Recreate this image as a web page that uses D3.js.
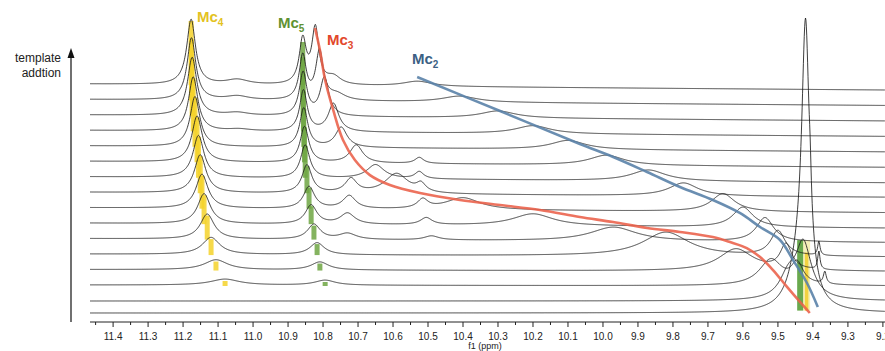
<!DOCTYPE html>
<html>
<head>
<meta charset="utf-8">
<script src="https://cdn.jsdelivr.net/npm/d3@7"></script>
<style>
  body { margin: 0; background: #fff; }
  svg { display: block; font-family: "Liberation Sans", Arial, sans-serif; }
</style>
</head>
<body>
<svg id="chart" width="885" height="351"></svg>
<script>
// ---- data ----
const ppmTicks = [11.4, 11.3, 11.2, 11.1, 11.0, 10.9, 10.8, 10.7, 10.6, 10.5, 10.4,
  10.3, 10.2, 10.1, 10.0, 9.9, 9.8, 9.7, 9.6, 9.5, 9.4, 9.3, 9.2];
const nTraces = 16;   // 0 = top (most template), 15 = bottom
const baseDrift = [6, 6, 6, 6, 6, 6, 6, 5, 5, 5, 4, 3, 2, 1, 0, 0];

// Mc4 (yellow)
const mc4Ppm = [11.177, 11.176, 11.174, 11.171, 11.166, 11.160, 11.156, 11.151, 11.146, 11.140, 11.131, 11.120, 11.106, 11.080];
const mc4Height = [65, 62, 58, 54, 50, 46, 42, 38, 34, 30, 25, 17, 10, 6];
const mc4Width = [0.015, 0.015, 0.016, 0.016, 0.017, 0.018, 0.019, 0.020, 0.021, 0.022, 0.024, 0.030, 0.040, 0.050];

// Mc5 (green)
const mc5Ppm = [10.858, 10.858, 10.857, 10.856, 10.855, 10.853, 10.851, 10.846, 10.840, 10.834, 10.826, 10.817, 10.809, 10.794];
const mc5Height = [44, 44, 43, 41, 39, 36, 33, 28, 22, 19, 15, 12, 8, 5];
const mc5Width = [0.012, 0.012, 0.013, 0.013, 0.014, 0.015, 0.016, 0.017, 0.019, 0.020, 0.022, 0.025, 0.030, 0.035];

// Mc3 (red)
const mc3Ppm = [10.822, 10.810, 10.796, 10.770, 10.748, 10.705, 10.650, 10.590, 10.400, 10.200, 9.970, 9.820, 9.620, 9.520, 9.470];
const mc3Height = [55, 48, 38, 28, 20, 18, 14, 20, 12, 12, 14, 24, 22, 26, 22];
const mc3Width = [0.012, 0.013, 0.015, 0.018, 0.020, 0.022, 0.030, 0.040, 0.060, 0.070, 0.080, 0.080, 0.060, 0.040, 0.030];

// Mc2 (blue)
const mc2Ppm = [10.530, 10.410, 10.300, 10.200, 10.100, 9.990, 9.870, 9.770, 9.657, 9.600, 9.537, 9.500, 9.477, 9.445, 9.430];
const mc2Height = [5, 6, 7, 8, 9, 10, 11, 13, 18, 20, 24, 25, 25, 20, 15];
const mc2Width = [0.05, 0.06, 0.06, 0.06, 0.06, 0.06, 0.06, 0.05, 0.04, 0.035, 0.03, 0.025, 0.02, 0.02, 0.02];

// other signals: [trace, ppm, height, half width]
const extraPeaks = [
  [0, 11.045, 5, 0.04], [1, 11.045, 4, 0.04], [2, 11.045, 3, 0.04], [3, 11.04, 2, 0.04],
  [0, 10.770, 8, 0.025], [1, 10.760, 6, 0.03],
  [5, 10.525, 6, 0.015], [6, 10.525, 7, 0.015], [7, 10.520, 8, 0.016], [8, 10.515, 9, 0.018],
  [9, 10.505, 7, 0.02], [10, 10.49, 4, 0.025],
  [7, 10.720, 14, 0.02], [8, 10.725, 13, 0.022], [9, 10.730, 11, 0.025], [10, 10.730, 6, 0.03],
  [11, 9.383, 14, 0.004], [12, 9.383, 18, 0.004], [13, 9.366, 12, 0.005],
  [15, 9.421, 262, 0.013], [15, 9.408, 24, 0.004], [15, 9.440, 40, 0.035], [14, 9.425, 40, 0.03]
];

// guide tracks: [ppm, trace level]
const mc3Track = [[10.823, -3.62], [10.809, -2.20], [10.794, -0.26], [10.771, 1.68], [10.743, 3.62],
  [10.709, 4.92], [10.666, 5.89], [10.609, 6.53], [10.523, 7.05], [10.409, 7.50], [10.294, 7.83],
  [10.180, 8.15], [10.066, 8.60], [9.971, 8.93], [9.874, 9.31], [9.780, 9.57], [9.686, 9.90],
  [9.637, 10.22], [9.589, 10.61], [9.551, 11.19], [9.514, 12.03], [9.474, 13.12], [9.437, 14.08], [9.409, 15.0]];
const mc2Track = [[10.531, -0.45], [10.294, 1.75], [10.066, 3.88], [9.971, 4.72], [9.874, 5.69],
  [9.780, 6.66], [9.686, 7.50], [9.609, 8.34], [9.551, 9.25], [9.494, 10.09], [9.457, 11.38],
  [9.417, 12.87], [9.386, 14.5]];

// ---- scales ----
const svg = d3.select('#chart');
const x = d3.scaleLinear().domain([11.466, 9.194]).range([90, 885]);
const lane = d3.scaleLinear().domain([-5, 13, 14, 15]).range([6.7, 285, 301, 313]);
const amp = d3.scaleLinear().domain([0, 100]).range([0, 100]);
const across = d3.scaleLinear().domain([11.466, 9.194]).range([0, 1]);

function peaksOf(t) {
  let list = [];
  if (t < mc4Ppm.length) list.push([mc4Ppm[t], mc4Height[t], mc4Width[t]]);
  if (t < mc5Ppm.length) list.push([mc5Ppm[t], mc5Height[t], mc5Width[t]]);
  if (t < mc3Ppm.length) list.push([mc3Ppm[t], mc3Height[t], mc3Width[t]]);
  if (t < mc2Ppm.length) list.push([mc2Ppm[t], mc2Height[t], mc2Width[t]]);
  extraPeaks.filter(p => p[0] === t).forEach(p => list.push([p[1], p[2], p[3]]));
  return list;
}

function intensity(list, p) {
  let s = 0;
  list.forEach(function(k) {
    let u = (p - k[0]) / k[2];
    s += k[1] / (1 + u * u);
  });
  return s;
}

function yAt(t, p, list) {
  return lane(t) + baseDrift[t] * across(p) - amp(intensity(list, p));
}

const ppmGrid = d3.range(11.466, 9.194, -0.0012);

// ---- marker bars (under the traces) ----
const bars = svg.append('g');
mc4Ppm.forEach(function(p, i) {
  bars.append('rect')
    .attr('x', x(p) - 2.5).attr('width', 5)
    .attr('y', lane(i) - amp(mc4Height[i]) + 2)
    .attr('height', amp(mc4Height[i]) - 1)
    .attr('fill', '#f4d22a').attr('opacity', 0.85);
});
mc5Ppm.forEach(function(p, i) {
  bars.append('rect')
    .attr('x', x(p) - 2.5).attr('width', 5)
    .attr('y', lane(i) - amp(mc5Height[i]) + 2)
    .attr('height', amp(mc5Height[i]) - 1)
    .attr('fill', '#6fa643').attr('opacity', 0.85);
});
// end positions near 9.43
bars.append('rect').attr('x', x(9.428)).attr('width', x(9.408) - x(9.428))
  .attr('y', lane(10.1)).attr('height', lane(14.8) - lane(10.1))
  .attr('fill', '#f3eca6').attr('opacity', 0.8);
bars.append('rect').attr('x', x(9.423)).attr('width', x(9.413) - x(9.423))
  .attr('y', lane(10.9)).attr('height', lane(14.8) - lane(10.9))
  .attr('fill', '#f2cd2a').attr('opacity', 0.85);
bars.append('rect').attr('x', x(9.445)).attr('width', x(9.428) - x(9.445))
  .attr('y', lane(10.1)).attr('height', lane(14.8) - lane(10.1))
  .attr('fill', '#4f9a2e').attr('opacity', 0.85);

// ---- spectra ----
const line = d3.line().x(d => x(d[0])).y(d => d[1]);
for (let t = nTraces - 1; t >= 0; t--) {
  let list = peaksOf(t);
  let pts = ppmGrid.map(p => [p, yAt(t, p, list)]);
  svg.append('path').attr('d', line(pts))
    .attr('fill', 'none').attr('stroke', '#1c1c1c').attr('stroke-width', 0.85);
}

// ---- guide tracks ----
const track = d3.line().x(d => x(d[0])).y(d => lane(d[1])).curve(d3.curveCatmullRom);
svg.append('path').attr('d', track(mc3Track)).attr('fill', 'none')
  .attr('stroke', '#ea6049').attr('stroke-width', 2.6).attr('opacity', 0.88);
svg.append('path').attr('d', track(mc2Track)).attr('fill', 'none')
  .attr('stroke', '#5a82a8').attr('stroke-width', 2.6).attr('opacity', 0.9);

// ---- labels ----
function mcLabel(px, py, sub, color) {
  let t = svg.append('text').attr('x', px).attr('y', py)
    .attr('fill', color).attr('font-weight', 'bold').attr('font-size', 15);
  t.append('tspan').text('Mc');
  t.append('tspan').attr('dy', 4).attr('font-size', 10).text(sub);
}
mcLabel(197, 22, '4', '#e3c21f');
mcLabel(278, 28, '5', '#5f9233');
mcLabel(327, 45, '3', '#e2472b');
mcLabel(412, 64, '2', '#3c6184');

// ---- x axis ----
const axisY = 322;
svg.append('line').attr('x1', 90).attr('x2', 885).attr('y1', axisY).attr('y2', axisY)
  .attr('stroke', '#222').attr('stroke-width', 1);
const minor = d3.range(11.45, 9.19, -0.1);
svg.selectAll('.mt').data(minor).join('line')
  .attr('x1', d => x(d)).attr('x2', d => x(d)).attr('y1', axisY).attr('y2', axisY + 3)
  .attr('stroke', '#222').attr('stroke-width', 1);
svg.selectAll('.tk').data(ppmTicks).join('line')
  .attr('x1', d => x(d)).attr('x2', d => x(d)).attr('y1', axisY).attr('y2', axisY + 5)
  .attr('stroke', '#222').attr('stroke-width', 1);
svg.selectAll('.tl').data(ppmTicks).join('text')
  .attr('x', d => x(d)).attr('y', 340).attr('text-anchor', 'middle')
  .attr('font-size', 10).attr('fill', '#222')
  .text(d => d.toFixed(1));
svg.append('text').attr('x', 485).attr('y', 349).attr('text-anchor', 'middle')
  .attr('font-size', 9).attr('fill', '#222').text('f1 (ppm)');

// ---- template arrow ----
svg.append('line').attr('x1', 71).attr('x2', 71).attr('y1', 322).attr('y2', 56)
  .attr('stroke', '#111').attr('stroke-width', 1.2);
svg.append('path').attr('d', 'M71,48 L67.5,58 L74.5,58 Z').attr('fill', '#111');
svg.append('text').attr('x', 61).attr('y', 62).attr('text-anchor', 'end')
  .attr('font-size', 12).attr('fill', '#222').text('template');
svg.append('text').attr('x', 61).attr('y', 77).attr('text-anchor', 'end')
  .attr('font-size', 12).attr('fill', '#222').text('addtion');
</script>
</body>
</html>
